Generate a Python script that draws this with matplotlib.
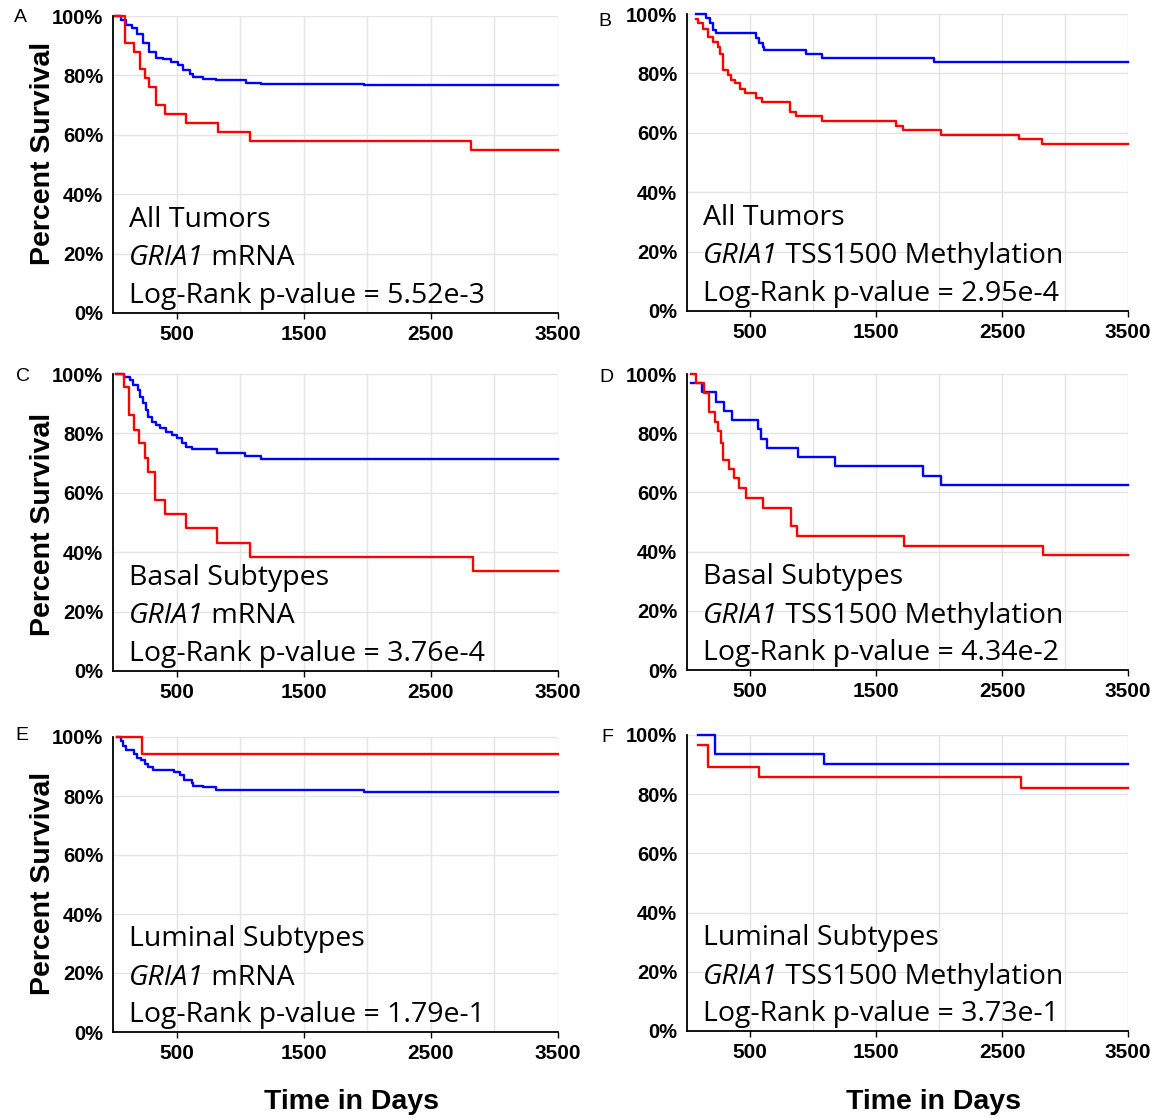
"""
Kaplan-Meier survival panels for GRIA1 (mRNA and TSS1500 methylation)
"""
import matplotlib
matplotlib.use("Agg")
from matplotlib import pyplot as plt
from matplotlib.ticker import PercentFormatter

W, H = 1156, 1118
END_DAY = 3500

# panel A - all tumors, mRNA
a_red_days = [15, 97, 168, 215, 250, 285, 338, 412, 574, 824, 1074, 2815]
a_red_surv = [100, 91, 88, 82, 79, 76, 70, 67, 64, 61, 58, 55]
a_blue_days = [15, 59, 103, 147, 191, 235, 280, 338, 397, 456, 515, 553, 603, 632, 706, 809, 1044, 1162, 1971]
a_blue_surv = [100, 98.7, 97, 96, 94, 91, 88, 86, 85.4, 84.6, 83.5, 81.8, 80.5, 79.4, 78.9, 78.3, 77.6, 77.1, 76.7]

# panel B - all tumors, methylation
b_red_days = [72, 89, 130, 167, 210, 245, 262, 282, 326, 349, 383, 418, 464, 550, 599, 821, 867, 1075, 1657, 1715, 2012, 2631, 2818]
b_red_surv = [98.2, 96.9, 94.8, 92.4, 90.7, 89, 86.7, 81.1, 79.4, 77.8, 76.6, 74.9, 73.3, 71.6, 70.4, 67.1, 65.6, 64, 62.2, 60.9, 59.2, 57.8, 56.2]
b_blue_days = [72, 153, 181, 205, 233, 550, 571, 600, 614, 945, 1069, 1962]
b_blue_surv = [100, 98.5, 97, 94.6, 93.5, 91.8, 90.3, 89, 87.9, 86.7, 85.3, 83.9]

# panel C - basal, mRNA
c_red_days = [20, 89, 125, 164, 208, 253, 274, 333, 408, 571, 818, 1077, 2833]
c_red_surv = [100, 95.5, 86.2, 81.3, 76.6, 71.8, 67.1, 57.5, 52.8, 48, 43.1, 38.4, 33.7]
c_blue_days = [20, 89, 134, 155, 193, 214, 238, 262, 274, 304, 342, 372, 417, 461, 506, 542, 574, 625, 818, 1036, 1161]
c_blue_surv = [100, 99.1, 98, 96.3, 94.6, 92.4, 90.1, 87.9, 85.6, 83.9, 82.8, 81.7, 80.6, 79.4, 78.3, 76.9, 75.5, 74.6, 73.5, 72.4, 71.5]

# panel D - basal, methylation
d_red_days = [32, 75, 133, 176, 220, 249, 269, 286, 335, 373, 416, 471, 604, 829, 870, 1723, 2829]
d_red_surv = [100, 96.9, 93.5, 87.3, 83.9, 80.6, 76.6, 71, 67.9, 64.8, 61.5, 58.1, 54.7, 48.5, 45.2, 42, 38.7]
d_blue_days = [32, 118, 234, 292, 355, 566, 587, 633, 879, 1173, 1876, 2012]
d_blue_surv = [97.1, 94, 90.7, 87.6, 84.5, 81.3, 78.1, 74.9, 71.9, 68.8, 65.6, 62.5]

# panel E - luminal, mRNA
e_red_days = [30, 226]
e_red_surv = [100, 94.4]
e_blue_days = [30, 59, 79, 103, 162, 185, 221, 250, 279, 315, 479, 529, 559, 618, 632, 706, 809, 1971]
e_blue_surv = [100, 98.7, 97, 95.5, 94.2, 93, 92.1, 91, 89.9, 88.8, 88, 87.1, 85.4, 84.3, 83.5, 82.9, 82, 81.2]

# panel F - luminal, methylation
f_red_days = [89, 167, 571, 2654]
f_red_surv = [96.6, 89.3, 85.8, 82.2]
f_blue_days = [89, 225, 1084]
f_blue_surv = [100, 93.5, 90.1]

letters = ["A", "B", "C", "D", "E", "F"]
groups = ["All Tumors", "All Tumors", "Basal Subtypes", "Basal Subtypes", "Luminal Subtypes", "Luminal Subtypes"]
features = [" mRNA", " TSS1500 Methylation"] * 3
pvalues = ["5.52e-3", "2.95e-4", "3.76e-4", "4.34e-2", "1.79e-1", "3.73e-1"]

x_major = [500, 1500, 2500, 3500]
x_minor = [1000, 2000, 3000]
y_ticks = [0, 20, 40, 60, 80, 100]

curves = [
    (a_red_days, a_red_surv, a_blue_days, a_blue_surv),
    (b_red_days, b_red_surv, b_blue_days, b_blue_surv),
    (c_red_days, c_red_surv, c_blue_days, c_blue_surv),
    (d_red_days, d_red_surv, d_blue_days, d_blue_surv),
    (e_red_days, e_red_surv, e_blue_days, e_blue_surv),
    (f_red_days, f_red_surv, f_blue_days, f_blue_surv),
]

# axes boxes in pixels: left, top, right, bottom
boxes = [
    (113, 16, 558, 313), (687, 14, 1128, 311),
    (113, 374, 558, 671), (687, 374, 1128, 670),
    (113, 737, 558, 1032), (687, 735, 1128, 1031),
]
letter_pos = [(20, 18), (605, 21), (23, 377), (606, 378), (22, 736), (607, 738)]


def px_axes(fig, left, top, right, bottom):
    return fig.add_axes([left / W, 1 - bottom / H, (right - left) / W, (bottom - top) / H])


def step_line(ax, days, surv, color):
    ax.step(days + [END_DAY], surv + [surv[-1]], where="post", color=color, lw=1.7, clip_on=False)


def style_axes(ax):
    ax.set_xlim(0, END_DAY)
    ax.set_ylim(0, 100)
    ax.set_xticks(x_major)
    ax.set_xticks(x_minor, minor=True)
    ax.set_yticks(y_ticks)
    ax.yaxis.set_major_formatter(PercentFormatter(decimals=0))
    ax.tick_params(axis="x", which="major", length=4.5, width=1, pad=4, labelsize=15)
    ax.tick_params(axis="x", which="minor", length=0)
    ax.tick_params(axis="y", length=0, pad=7, labelsize=14.5)
    for lab in ax.get_xticklabels() + ax.get_yticklabels():
        lab.set_fontweight("bold")
    ax.grid(True, which="both", color="#e4e4e4", lw=1)
    ax.set_axisbelow(True)
    ax.spines["top"].set_visible(False)
    ax.spines["right"].set_visible(False)
    ax.spines["left"].set_linewidth(1.3)
    ax.spines["bottom"].set_linewidth(1.3)


def add_note(ax, group, feature, pval):
    kw = dict(transform=ax.transAxes, fontfamily="Open Sans", fontsize=20.5)
    ax.text(0.036, 0.29, group, **kw)
    gene = ax.text(0.036, 0.16, "GRIA1", style="italic", **kw)
    ax.annotate(feature, xy=(1, 0), xycoords=gene, ha="left", va="bottom",
                fontfamily="Open Sans", fontsize=20.5)
    ax.text(0.036, 0.035, f"Log-Rank p-value = {pval}", **kw)


plt.rcParams["font.family"] = "Liberation Sans"
fig = plt.figure(figsize=(W / 100, H / 100), dpi=100)

for i in range(6):
    ax = px_axes(fig, *boxes[i])
    style_axes(ax)
    red_d, red_s, blue_d, blue_s = curves[i]
    step_line(ax, blue_d, blue_s, "#0000ff")
    step_line(ax, red_d, red_s, "#ff0000")
    add_note(ax, groups[i], features[i], pvalues[i])
    lx, ly = letter_pos[i]
    fig.text(lx / W, 1 - ly / H, letters[i], ha="center", va="center", fontsize=14)

for yc in [153, 524, 883]:
    fig.text(43 / W, 1 - yc / H, "Percent Survival", rotation=90, ha="center", va="center",
             fontsize=20.5, fontweight="bold")

for xc in [352, 933]:
    fig.text(xc / W, 1 - 1102 / H, "Time in Days", ha="center", va="center",
             fontsize=20.5, fontweight="bold")

fig.savefig("out.png", dpi=100)
